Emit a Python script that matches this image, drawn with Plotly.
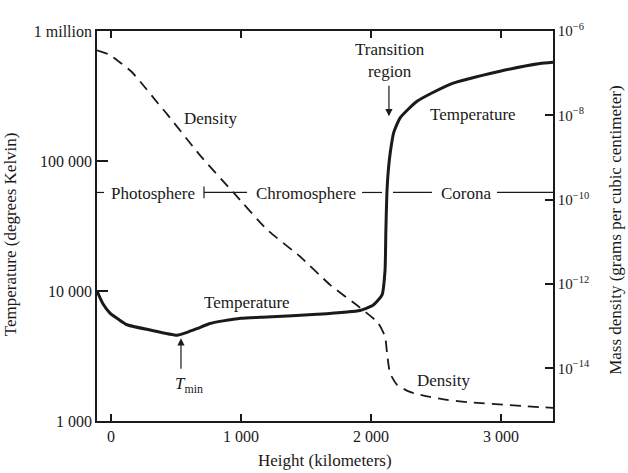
import plotly.graph_objects as go

# ---- data ----
temp_height_km = [-108, -60, -8, 60, 123, 300, 508, 580, 660, 760, 862, 1000, 1200, 1585,
                  1915, 2015, 2085, 2108, 2114, 2122, 2135, 2150, 2175, 2223, 2354, 2608,
                  2992, 3300, 3400]
temperature_K = [10000, 7900, 6760, 6030, 5500, 5010, 4570, 4790, 5130, 5620, 5890, 6170,
                 6310, 6610, 7080, 7760, 9330, 14450, 28200, 56200, 89100, 120000, 166000,
                 214000, 288000, 389000, 490000, 562000, 575000]

dens_height_km = [-108, -23, 54, 162, 262, 362, 431, 685, 941, 1200, 1454, 1685, 1915, 2054,
                  2108, 2123, 2146, 2200, 2300, 2454, 2585, 2738, 3300, 3400]
density_g_cm3 = [3.47e-7, 2.82e-7, 1.95e-7, 1.05e-7, 4.57e-8, 1.91e-8, 1.07e-8, 1.12e-9,
                 1.48e-10, 1.95e-11, 4.47e-12, 9.55e-13, 2.75e-13, 1.20e-13, 5.62e-14,
                 2.34e-14, 7.76e-15, 4.07e-15, 2.75e-15, 2.09e-15, 1.78e-15, 1.58e-15,
                 1.20e-15, 1.15e-15]

x_ticks = [0, 1000, 2000, 3000]
x_ticktext = ["0", "1 000", "2 000", "3 000"]
t_ticks = [1000, 10000, 100000, 1000000]
t_ticktext = ["1 000", "10 000", "100 000", "1 million"]
d_ticks = [1e-6, 1e-8, 1e-10, 1e-12, 1e-14]
d_ticktext = ["10<sup>−6</sup>", "10<sup>−8</sup>", "10<sup>−10</sup>",
              "10<sup>−12</sup>", "10<sup>−14</sup>"]

FONT = "Liberation Serif"
INK = "#1a1a1a"

fig = go.Figure()
fig.add_trace(go.Scatter(x=temp_height_km, y=temperature_K, mode="lines",
                         line=dict(color=INK, width=3, shape="spline", smoothing=0.5),
                         hoverinfo="skip", showlegend=False))
fig.add_trace(go.Scatter(x=dens_height_km, y=density_g_cm3, mode="lines", yaxis="y2",
                         line=dict(color=INK, width=1.8, dash="11px,7px", shape="spline",
                                   smoothing=0.5),
                         hoverinfo="skip", showlegend=False))

ann_font = dict(family=FONT, size=17, color=INK)
annotations = [
    dict(x=762, y=5.33, text="Density"),
    dict(x=2146, y=5.77, text="Transition<br>region"),
    dict(x=2785, y=5.36, text="Temperature"),
    dict(x=323, y=4.747, text="Photosphere"),
    dict(x=1500, y=4.747, text="Chromosphere"),
    dict(x=2731, y=4.747, text="Corona"),
    dict(x=1046, y=3.91, text="Temperature"),
    dict(x=600, y=3.276, text="<i>T</i><sub>min</sub>"),
    dict(x=2554, y=3.314, text="Density"),
]
for a in annotations:
    a.update(xref="x", yref="y", showarrow=False, font=ann_font,
             xanchor="center", yanchor="middle")
# arrows
annotations.append(dict(x=2138, y=5.345, xref="x", yref="y", text="", showarrow=True,
                        ax=0, ay=-32, arrowhead=2, arrowsize=1.2, arrowwidth=1.2,
                        arrowcolor=INK, standoff=0))
annotations.append(dict(x=538, y=3.636, xref="x", yref="y", text="", showarrow=True,
                        ax=0, ay=32, arrowhead=2, arrowsize=1.2, arrowwidth=1.2,
                        arrowcolor=INK, standoff=0))
# axis titles
title_font = dict(family=FONT, size=17, color=INK)
annotations.append(dict(x=0.5, y=-0.1, xref="paper", yref="paper", text="Height (kilometers)",
                        showarrow=False, font=title_font, xanchor="center", yanchor="middle"))
annotations.append(dict(x=-0.19, y=0.48, xref="paper", yref="paper",
                        text="Temperature (degrees Kelvin)", textangle=-90,
                        showarrow=False, font=title_font, xanchor="center", yanchor="middle"))
annotations.append(dict(x=1.138, y=0.49, xref="paper", yref="paper",
                        text="Mass density (grams per cubic centimeter)", textangle=-90,
                        showarrow=False, font=title_font, xanchor="center", yanchor="middle"))

# region separator lines
yl = 0.586
seg = [(-108, -54), (715, 1046), (1931, 2085), (2169, 2469), (2969, 3400)]
shapes = [dict(type="line", xref="x", yref="paper", x0=a, x1=b, y0=yl, y1=yl,
               line=dict(color=INK, width=1.2)) for a, b in seg]
shapes.append(dict(type="line", xref="x", yref="paper", x0=715, x1=715, y0=yl - 0.015,
                   y1=yl + 0.015, line=dict(color=INK, width=1.2)))

axis_common = dict(ticks="inside", tickwidth=1.6, tickcolor=INK, showline=True,
                   linecolor=INK, linewidth=1.6, showgrid=False, zeroline=False)

fig.update_layout(
    template="none",
    width=628, height=473,
    margin=dict(l=97, r=75, t=31, b=52),
    paper_bgcolor="white", plot_bgcolor="white", showlegend=False,
    font=dict(family=FONT, size=16, color=INK),
    annotations=annotations, shapes=shapes,
    xaxis=dict(range=[-108, 3400], tickvals=x_ticks, ticktext=x_ticktext,
               ticklen=7, mirror="ticks", tickfont=dict(family=FONT, size=16),
               **axis_common),
    yaxis=dict(type="log", range=[3, 6], tickvals=t_ticks, ticktext=t_ticktext,
               ticklen=11, tickfont=dict(family=FONT, size=16), **axis_common),
    yaxis2=dict(type="log", range=[-15.25, -6], overlaying="y", side="right",
                tickvals=d_ticks, ticktext=d_ticktext, ticklen=8,
                tickfont=dict(family=FONT, size=15), **axis_common),
)

fig.write_html("out.html", config={"displayModeBar": False},
               post_script="document.body.style.margin='0';document.body.style.overflow='hidden';")
